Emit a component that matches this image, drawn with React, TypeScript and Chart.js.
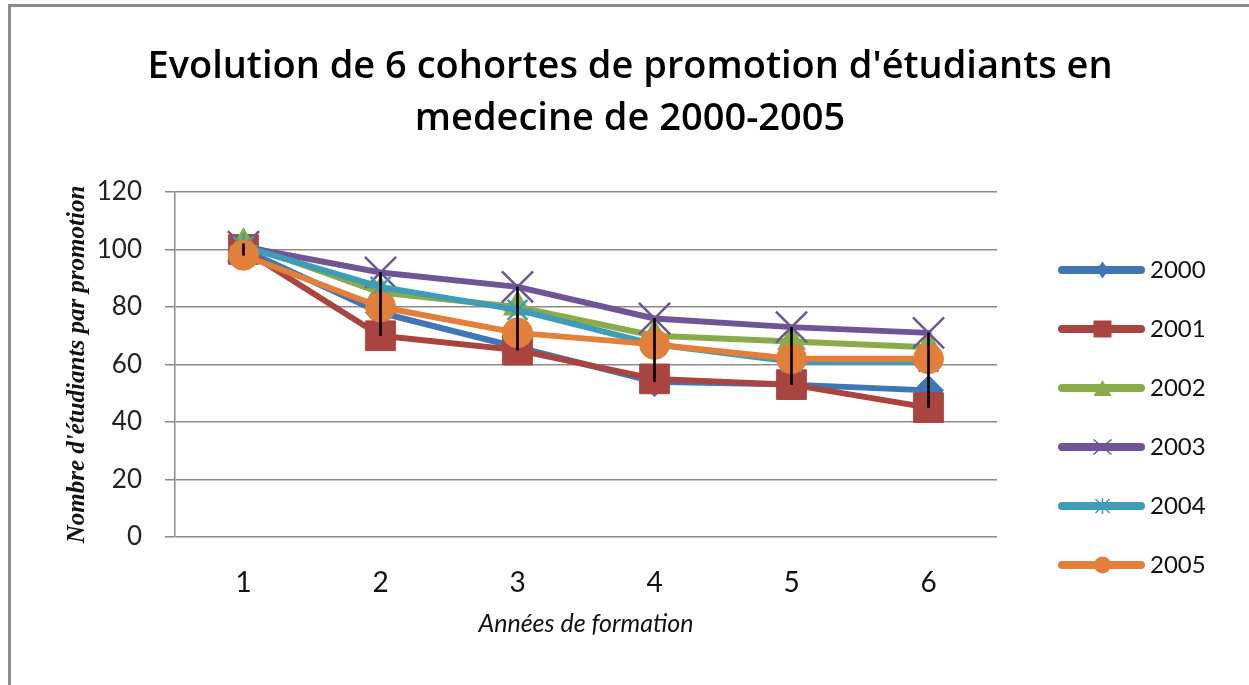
import React, { useEffect, useRef } from 'react';
import { Chart, registerables } from 'chart.js';

Chart.register(...registerables);

// ---------- data ----------
const years = ['1', '2', '3', '4', '5', '6'];
const cohorts = ['2000', '2001', '2002', '2003', '2004', '2005'];
const promo2000 = [100, 78, 66, 54, 53, 51];
const promo2001 = [100, 70, 65, 55, 53, 45];
const promo2002 = [102, 85, 80, 70, 68, 66];
const promo2003 = [101, 92, 87, 76, 73, 71];
const promo2004 = [101, 87, 79, 67, 61, 61];
const promo2005 = [98, 80, 71, 67, 62, 62];
const yTicks = [0, 20, 40, 60, 80, 100, 120];

const titleLines = ["Evolution de 6 cohortes de promotion d'étudiants en", 'medecine de 2000-2005'];
const xTitle = 'Années de formation';
const yTitle = "Nombre d'étudiants par promotion";

// ---------- styles ----------
const seriesValues = [promo2000, promo2001, promo2002, promo2003, promo2004, promo2005];
const colors = ['#3F76B6', '#A9443F', '#8AAB4A', '#6F5596', '#3E9DB6', '#E2803A'];
const pointStyles = ['rectRot', 'rect', 'triangle', 'crossRot', 'star', 'circle'];
const pointRadii = [15, 21, 16, 22, 14, 15];
const pointBorderWidths = [1, 1, 1, 2.5, 2.5, 1];

function makeLegendImage(color: string, style: string): HTMLCanvasElement {
  const c = document.createElement('canvas');
  c.width = 120;
  c.height = 24;
  const g = c.getContext('2d')!;
  g.strokeStyle = color;
  g.fillStyle = color;
  g.lineCap = 'round';
  g.lineWidth = 8;
  g.beginPath();
  g.moveTo(37, 12);
  g.lineTo(116, 12);
  g.stroke();
  const cx = 77.5;
  const cy = 12;
  g.lineCap = 'butt';
  g.beginPath();
  if (style === 'rectRot') {
    g.moveTo(cx, cy - 8.5);
    g.lineTo(cx + 6, cy);
    g.lineTo(cx, cy + 8.5);
    g.lineTo(cx - 6, cy);
    g.closePath();
    g.fill();
  } else if (style === 'rect') {
    g.rect(cx - 9, cy - 8.5, 18, 17);
    g.fill();
  } else if (style === 'triangle') {
    g.moveTo(cx, cy - 8);
    g.lineTo(cx + 9, cy + 8);
    g.lineTo(cx - 9, cy + 8);
    g.closePath();
    g.fill();
  } else if (style === 'crossRot') {
    g.lineWidth = 1.5;
    g.moveTo(cx - 9, cy - 7.5);
    g.lineTo(cx + 9, cy + 7.5);
    g.moveTo(cx + 9, cy - 7.5);
    g.lineTo(cx - 9, cy + 7.5);
    g.stroke();
  } else if (style === 'star') {
    g.lineWidth = 1.5;
    g.moveTo(cx, cy - 8);
    g.lineTo(cx, cy + 8);
    g.moveTo(cx - 7, cy - 7);
    g.lineTo(cx + 7, cy + 7);
    g.moveTo(cx + 7, cy - 7);
    g.lineTo(cx - 7, cy + 7);
    g.stroke();
  } else {
    g.arc(cx, cy, 8.5, 0, Math.PI * 2);
    g.fill();
  }
  return c;
}

export default function App() {
  const ref = useRef<HTMLCanvasElement>(null);

  useEffect(() => {
    const canvas = ref.current;
    if (!canvas) return;
    const legendImages = colors.map((col, i) => makeLegendImage(col, pointStyles[i]));

    const lineDatasets: any[] = seriesValues.map((values, i) => ({
      type: 'line',
      label: cohorts[i],
      data: values,
      borderColor: colors[i],
      backgroundColor: colors[i],
      borderWidth: 6,
      borderCapStyle: 'round',
      borderJoinStyle: 'round',
      tension: 0,
      fill: false,
      pointStyle: pointStyles[i],
      pointRadius: pointRadii[i],
      pointBackgroundColor: colors[i],
      pointBorderColor: colors[i],
      pointBorderWidth: pointBorderWidths[i],
      order: seriesValues.length - i,
    }));

    const ranges = years.map((_, j) => {
      const vals = seriesValues.map((s) => s[j]);
      return [Math.min(...vals), Math.max(...vals)];
    });

    const chart = new Chart(canvas, {
      type: 'line',
      data: {
        labels: years,
        datasets: [
          ...lineDatasets,
          {
            type: 'bar',
            label: 'range',
            data: ranges as any,
            backgroundColor: '#000000',
            borderWidth: 0,
            barThickness: 2,
            order: 0,
          } as any,
        ],
      },
      options: {
        responsive: false,
        animation: false,
        events: [],
        layout: { padding: { top: 0, left: 48, right: 37, bottom: 0 } },
        plugins: {
          title: {
            display: true,
            text: titleLines,
            color: '#000',
            font: { family: 'Open Sans', size: 38, weight: '600', lineHeight: 52 / 38 },
            padding: { top: 41, bottom: 47 },
          },
          legend: {
            position: 'right',
            align: 'start',
            maxWidth: 215,
            title: {
              display: true,
              text: '',
              font: { size: 10, lineHeight: 1 },
              padding: { top: 213, bottom: 0 },
            },
            labels: {
              usePointStyle: true,
              pointStyleWidth: 106,
              padding: 35,
              color: '#111',
              font: { family: 'Lato', size: 24 },
              filter: (item: any) => item.datasetIndex < cohorts.length,
              sort: (a: any, b: any) => a.datasetIndex - b.datasetIndex,
              generateLabels: (ch: any) => {
                const base = (Chart.defaults.plugins.legend.labels as any).generateLabels(ch);
                return base.map((it: any) => ({
                  ...it,
                  pointStyle: it.datasetIndex < legendImages.length ? legendImages[it.datasetIndex] : it.pointStyle,
                  rotation: 0,
                }));
              },
            },
          },
          tooltip: { enabled: false },
        },
        scales: {
          x: {
            type: 'category',
            offset: true,
            grid: { display: false, drawTicks: false },
            border: { display: false },
            ticks: { color: '#111', font: { family: 'Lato', size: 28 }, padding: 29 },
            title: {
              display: true,
              text: xTitle,
              color: '#111',
              font: { family: 'Lato', size: 25, style: 'italic' },
              padding: { top: 0, bottom: 46 },
            },
            afterFit: (s: any) => {
              s.height = 148;
            },
          },
          y: {
            min: yTicks[0],
            max: yTicks[yTicks.length - 1],
            afterBuildTicks: (s: any) => {
              s.ticks = yTicks.map((v) => ({ value: v }));
            },
            ticks: { color: '#222', font: { family: 'Lato', size: 26 }, padding: 23 },
            grid: { color: '#8a8a8a', lineWidth: 1.5, tickLength: 10, drawTicks: true },
            border: { color: '#8a8a8a', width: 1.5 },
            title: {
              display: true,
              text: yTitle,
              color: '#111',
              font: { family: 'Liberation Serif', size: 25, style: 'italic', weight: 'bold' },
              padding: { top: 15, bottom: 0 },
            },
            afterFit: (s: any) => {
              s.width = 127;
            },
          },
        },
      } as any,
    });
    return () => chart.destroy();
  }, []);

  return (
    <div
      style={{
        position: 'fixed',
        left: 0,
        top: 0,
        width: 1249,
        height: 685,
        overflow: 'hidden',
        background: '#fff',
      }}
    >
      <div
        style={{
          position: 'absolute',
          left: 8,
          top: 4,
          width: 1400,
          height: 900,
          borderTop: '3px solid #8d8d8d',
          borderLeft: '3px solid #8d8d8d',
        }}
      />
      <canvas
        ref={ref}
        width={1249}
        height={685}
        style={{ position: 'absolute', left: 0, top: 0, width: 1249, height: 685 }}
      />
    </div>
  );
}
